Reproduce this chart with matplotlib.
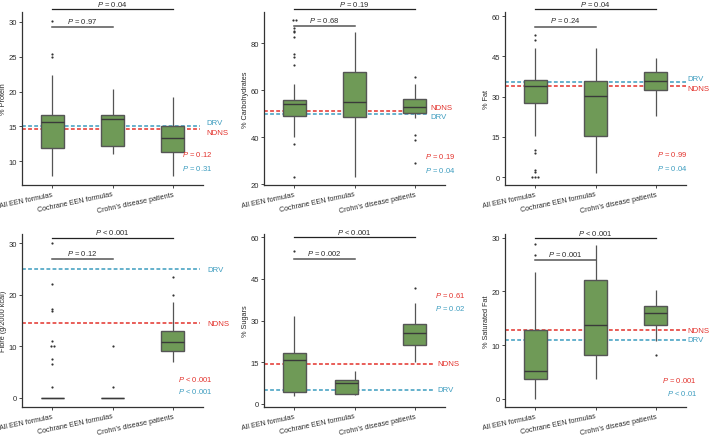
import numpy as np
import matplotlib.pyplot as plt
from matplotlib.patches import Rectangle

plt.rcParams['font.family'] = ['Liberation Sans', 'DejaVu Sans']
plt.rcParams['mathtext.fontset'] = 'custom'
plt.rcParams['mathtext.it'] = 'Liberation Sans:italic'
plt.rcParams['mathtext.rm'] = 'Liberation Sans'

groups = ["All EEN formulas", "Cochrane EEN formulas", "Crohn\u2019s disease patients"]

# box stats per group: lower whisker, q1, median, q3, upper whisker
protein_box = [[7.9, 11.9, 15.7, 16.7, 22.4], [11.0, 12.2, 16.1, 16.6, 20.4], [7.9, 11.3, 13.4, 15.0, 19.2]]
protein_fliers = [[30.1, 25.4, 25.0], [], []]
carb_box = [[40.1, 49.0, 54.1, 55.9, 62.7], [22.8, 48.7, 54.9, 67.7, 84.7], [48.0, 50.5, 52.8, 56.4, 62.7]]
carb_fliers = [[89.9, 89.9, 86.5, 85.4, 84.7, 82.6, 75.4, 74.2, 70.8, 37.3, 22.9], [], [65.8, 40.8, 38.7, 28.9]]
fat_box = [[15.5, 27.7, 33.9, 36.3, 48.1], [1.6, 15.5, 30.4, 35.8, 48.1], [22.7, 32.5, 36.0, 39.1, 44.3]]
fat_fliers = [[52.8, 50.9, 10.2, 9.1, 2.5, 1.9, 0.0, 0.0, 0.0], [], []]
fibre_box = [[0, 0, 0, 0, 0], [0, 0, 0, 0, 0], [7.0, 9.0, 10.8, 12.9, 18.6]]
fibre_fliers = [[30.0, 22.0, 17.3, 16.8, 11.0, 10.0, 10.0, 7.5, 6.5, 2.0], [10.0, 2.0], [23.4, 20.0]]
sugar_box = [[2.7, 4.2, 15.8, 18.2, 31.5], [3.1, 3.7, 7.5, 8.7, 11.9], [15.0, 21.4, 25.4, 28.7, 36.3]]
sugar_fliers = [[55.0], [], [41.7]]
satfat_box = [[0.0, 3.6, 5.1, 12.8, 23.6], [3.6, 8.1, 13.8, 22.1, 28.6], [10.7, 13.8, 15.9, 17.2, 20.3]]
satfat_fliers = [[28.8, 26.8], [], [8.2]]

ylabels = ["% Protein", "% Carbohydrates", "% Fat", "Fibre (g/2000 kcal)", "% Sugars", "% Saturated Fat"]
drv_values = [15.0, 50.0, 35.3, 25.0, 5.1, 11.0]
ndns_values = [14.6, 51.2, 33.9, 14.5, 14.4, 12.8]
# group comparisons: All vs Cochrane, All vs Crohn's
p_pair_low = ["= 0.97", "= 0.68", "= 0.24", "= 0.12", "= 0.002", "= 0.001"]
p_pair_top = ["= 0.04", "= 0.19", "= 0.04", "< 0.001", "< 0.001", "< 0.001"]
# patients vs reference values
p_ndns = ["= 0.12", "= 0.19", "= 0.99", "< 0.001", "= 0.61", "= 0.001"]
p_drv = ["= 0.31", "= 0.04", "= 0.04", "< 0.001", "= 0.02", "< 0.01"]

boxes = [protein_box, carb_box, fat_box, fibre_box, sugar_box, satfat_box]
fliers = [protein_fliers, carb_fliers, fat_fliers, fibre_fliers, sugar_fliers, satfat_fliers]

# layout (axis ranges, annotation placement)
ylims = [(6.6, 31.4), (19.6, 93.4), (-2.9, 61.5), (-1.8, 31.8), (-1.1, 61.2), (-1.55, 30.7)]
yticks = [[10, 15, 20, 25, 30], [20, 40, 60, 80], [0, 15, 30, 45, 60],
          [0, 10, 20, 30], [0, 15, 30, 45, 60], [0, 10, 20, 30]]
bracket_y = [(29.3, 31.8), (87.5, 94.7), (56.1, 62.6), (26.9, 31.1), (52.1, 60.0), (25.9, 29.9)]
line_end = [3.45, 3.23, 3.5, 3.45, 3.33, 3.5]
label_x = [3.56, 3.25, 3.52, 3.57, 3.38, 3.52]
drv_label_y = [15.6, 49.0, 36.6, 25.0, 5.1, 11.0]
ndns_label_y = [14.1, 52.8, 33.2, 14.5, 14.4, 12.8]
ptext_x = [3.65, 3.67, 3.52, 3.65, 3.83, 3.68]
ptext_y = [(11.1, 9.1), (32.2, 26.0), (8.7, 3.7), (3.7, 1.35), (39.3, 34.9), (3.5, 1.2)]
# the Cochrane box in the sugars panel sits slightly left of its whisker
box_shift = {(4, 1): -0.13}

green = '#6f9a57'
edge = '#555555'
red = '#e3312b'
blue = '#3c9cbf'
txt = '#2b2b2b'

W, H = 709, 439
fig = plt.figure(figsize=(W / 100, H / 100), dpi=100)
col_left = [22, 264, 505]
row_top = [13, 235]
ax_w, ax_h = 181, 173

for i in range(6):
    r, c = divmod(i, 3)
    ax = fig.add_axes([col_left[c] / W, 1 - (row_top[r] + ax_h) / H, ax_w / W, ax_h / H])
    pos = np.arange(1, 4)
    bw = 0.38
    for k in range(3):
        wlo, q1, med, q3, whi = boxes[i][k]
        x = pos[k]
        bx = x + box_shift.get((i, k), 0.0)
        ax.vlines(x, q3, whi, color=edge, lw=0.9, zorder=2)
        ax.vlines(x, wlo, q1, color=edge, lw=0.9, zorder=2)
        ax.add_patch(Rectangle((bx - bw / 2, q1), bw, q3 - q1, facecolor=green,
                               edgecolor=edge, lw=1.0, zorder=3))
        ax.hlines(med, bx - bw / 2, bx + bw / 2, color='#3a3a3a', lw=1.0, zorder=4)
        fv = np.array(fliers[i][k])
        if len(fv):
            fx = np.full(len(fv), float(x))
            for v in np.unique(fv):
                idx = np.where(fv == v)[0]
                n = len(idx)
                fx[idx] = x + (np.arange(n) - (n - 1) / 2) * 0.045
            ax.scatter(fx, fv, s=2.5, color='#333333', zorder=5, linewidths=0)

    ax.hlines(drv_values[i], 0.5, line_end[i], colors=blue, linestyles=(0, (2.5, 1.5)), lw=1.1, zorder=1)
    ax.hlines(ndns_values[i], 0.5, line_end[i], colors=red, linestyles=(0, (2.5, 1.5)), lw=1.1, zorder=1)
    ax.text(label_x[i], drv_label_y[i], "DRV", color=blue, fontsize=5.6, va='center', ha='left', clip_on=False)
    ax.text(label_x[i], ndns_label_y[i], "NDNS", color=red, fontsize=5.6, va='center', ha='left', clip_on=False)
    ax.text(ptext_x[i], ptext_y[i][0], "$P$ " + p_ndns[i], color=red, fontsize=5.5,
            va='center', ha='right', clip_on=False)
    ax.text(ptext_x[i], ptext_y[i][1], "$P$ " + p_drv[i], color=blue, fontsize=5.5,
            va='center', ha='right', clip_on=False)

    # comparison brackets
    ylo, ytop = bracket_y[i]
    ax.plot([1, 2], [ylo, ylo], color='#555555', lw=1.1, clip_on=False)
    ax.plot([1, 3], [ytop, ytop], color='#222222', lw=0.9, clip_on=False)
    ax.annotate("$P$ " + p_pair_low[i], (1.5, ylo), xytext=(0, 1.5), textcoords='offset points',
                ha='center', va='bottom', fontsize=5.5, color=txt, annotation_clip=False)
    ax.annotate("$P$ " + p_pair_top[i], (2.0, ytop), xytext=(0, 0.8), textcoords='offset points',
                ha='center', va='bottom', fontsize=5.5, color=txt, annotation_clip=False)

    ax.set_xlim(0.5, 3.5)
    ax.set_ylim(*ylims[i])
    ax.set_yticks(yticks[i])
    ax.set_xticks(pos)
    ax.set_xticklabels(groups, rotation=12, ha='right', rotation_mode='anchor', fontsize=5.1, color=txt)
    ax.tick_params(axis='y', labelsize=5.5, length=2, width=0.6, pad=1.5, colors=txt)
    ax.tick_params(axis='x', length=2, width=0.6, pad=2, colors=txt)
    ax.set_ylabel(ylabels[i], fontsize=5.3, labelpad=1, color=txt)
    for s in ['top', 'right']:
        ax.spines[s].set_visible(False)
    for s in ['left', 'bottom']:
        ax.spines[s].set_color('#333333')
        ax.spines[s].set_linewidth(0.9)
    ax.set_facecolor('none')

fig.savefig('out.png', dpi=100)
